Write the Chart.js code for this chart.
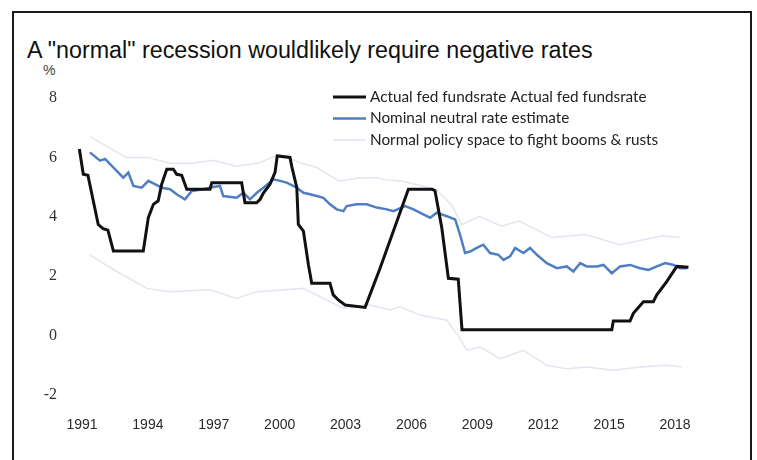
<!DOCTYPE html>
<html>
<head>
<meta charset="utf-8">
<script src="https://cdn.jsdelivr.net/npm/chart.js@4.4.0/dist/chart.umd.min.js"></script>
<style>
  body { margin: 0; background: #fff; }
  #wrap { position: relative; width: 757px; height: 460px; overflow: hidden; background: #fff; }
  #frame { position: absolute; left: 12px; top: 11px; width: 740px; height: 470px;
           border: 2px solid #1a1a1a; box-sizing: border-box; }
  #title { position: absolute; left: 27px; top: 38px; font: 23.3px/24px "Liberation Sans", Arial, sans-serif;
           color: #111; white-space: nowrap; }
  #unit { position: absolute; left: 43px; top: 62px; font: 14px "Liberation Sans", Arial, sans-serif; color: #444; }
  canvas { position: absolute; left: 0; top: 0; }
</style>
</head>
<body>
<div id="wrap">
  <div id="frame"></div>
  <div id="title">A "normal" recession wouldlikely require negative rates</div>
  <div id="unit">%</div>
  <canvas id="chart" width="757" height="460"></canvas>
</div>
<script>
// x values are decimal years
const yearTicks = [1991, 1994, 1997, 2000, 2003, 2006, 2009, 2012, 2015, 2018];
const valueTicks = [-2, 0, 2, 4, 6, 8];

// actual fed funds rate
const fedYears = [1990.88, 1991.06, 1991.27, 1991.74, 1991.96, 1992.18, 1992.43, 1993.79, 1994.02, 1994.25,
  1994.47, 1994.63, 1994.86, 1995.16, 1995.31, 1995.54, 1995.77, 1996.83, 1996.91, 1998.27,
  1998.42, 1998.95, 1999.11, 1999.26, 1999.56, 1999.79, 1999.89, 2000.47, 2000.55, 2000.78,
  2000.85, 2001.08, 2001.31, 2001.46, 2002.29, 2002.44, 2002.67, 2002.98, 2003.89, 2004.57,
  2005.86, 2006.94, 2007.07, 2007.38, 2007.68, 2008.13, 2008.30, 2015.12, 2015.19, 2015.95,
  2016.10, 2016.56, 2017.01, 2017.17, 2017.62, 2018.08, 2018.61];
const fedRates = [6.28, 5.43, 5.40, 3.74, 3.60, 3.55, 2.85, 2.85, 3.97, 4.42,
  4.54, 5.10, 5.60, 5.60, 5.43, 5.40, 4.93, 4.93, 5.15, 5.15,
  4.47, 4.47, 4.59, 4.80, 5.10, 5.50, 6.05, 6.00, 5.70, 4.98,
  3.74, 3.52, 2.38, 1.76, 1.76, 1.37, 1.20, 1.03, 0.95, 2.27,
  4.93, 4.93, 4.88, 3.63, 1.93, 1.90, 0.20, 0.20, 0.49, 0.49,
  0.75, 1.14, 1.14, 1.37, 1.82, 2.33, 2.30];

// nominal neutral rate estimate
const neutralYears = [1991.36, 1991.82, 1992.05, 1992.28, 1992.58, 1992.88, 1993.11, 1993.34, 1993.72, 1994.02,
  1994.32, 1994.63, 1995.01, 1995.31, 1995.69, 1996.00, 1996.52, 1996.98, 1997.28, 1997.43,
  1998.04, 1998.35, 1998.65, 1998.96, 1999.26, 1999.71, 2000.02, 2000.32, 2000.78, 2001.08,
  2001.38, 2001.69, 2001.99, 2002.29, 2002.60, 2002.90, 2003.05, 2003.51, 2003.96, 2004.42,
  2004.88, 2005.18, 2005.71, 2006.09, 2006.54, 2006.85, 2007.15, 2007.61, 2007.99, 2008.21,
  2008.44, 2008.67, 2008.97, 2009.27, 2009.58, 2009.96, 2010.19, 2010.49, 2010.72, 2011.10,
  2011.40, 2011.71, 2012.16, 2012.62, 2013.07, 2013.37, 2013.68, 2013.98, 2014.44, 2014.74,
  2015.12, 2015.50, 2015.95, 2016.41, 2016.79, 2017.17, 2017.55, 2017.93, 2018.23, 2018.54];
const neutralRates = [6.17, 5.89, 5.95, 5.77, 5.55, 5.32, 5.49, 5.04, 4.98, 5.21,
  5.10, 4.98, 4.93, 4.76, 4.59, 4.87, 4.93, 5.00, 5.04, 4.70,
  4.64, 4.81, 4.59, 4.81, 4.98, 5.26, 5.21, 5.15, 4.98, 4.81,
  4.76, 4.70, 4.64, 4.42, 4.25, 4.19, 4.36, 4.42, 4.42, 4.31,
  4.25, 4.19, 4.36, 4.25, 4.08, 3.97, 4.14, 4.02, 3.91, 3.40,
  2.78, 2.83, 2.95, 3.06, 2.78, 2.72, 2.55, 2.67, 2.95, 2.78,
  2.95, 2.72, 2.44, 2.27, 2.33, 2.16, 2.44, 2.33, 2.33, 2.38,
  2.10, 2.33, 2.38, 2.27, 2.21, 2.33, 2.44, 2.38, 2.27, 2.27];

// normal policy space band (upper and lower edge)
const upperYears = [1991.36, 1992.30, 1993.00, 1994.00, 1995.00, 1996.00, 1997.00, 1998.00, 1999.00, 2000.00,
  2001.00, 2001.69, 2002.70, 2003.50, 2004.42, 2004.70, 2005.60, 2007.10, 2007.80, 2008.30,
  2009.10, 2010.10, 2010.90, 2012.40, 2013.90, 2015.50, 2017.40, 2018.20];
const upperRates = [6.70, 6.30, 6.00, 6.00, 5.80, 5.80, 5.90, 5.70, 5.80, 6.10,
  5.80, 5.66, 5.20, 5.30, 5.32, 5.26, 5.20, 4.93, 4.42, 3.74,
  4.02, 3.68, 3.86, 3.30, 3.40, 3.06, 3.36, 3.30];
const lowerYears = [1991.36, 1991.96, 1992.73, 1993.95, 1995.01, 1996.83, 1998.04, 1998.96, 2001.08, 2001.99,
  2002.90, 2004.11, 2005.03, 2005.48, 2006.39, 2007.61, 2008.21, 2008.52, 2009.12, 2010.03,
  2011.10, 2012.16, 2013.07, 2013.98, 2015.19, 2016.41, 2017.63, 2018.31];
const lowerRates = [2.72, 2.44, 2.10, 1.59, 1.48, 1.54, 1.25, 1.48, 1.59, 1.25,
  0.92, 1.03, 0.86, 0.97, 0.69, 0.52, -0.10, -0.50, -0.38, -0.78,
  -0.50, -1.00, -1.12, -1.06, -1.17, -1.06, -1.00, -1.06];

const toPoints = (xs, ys) => xs.map((x, i) => ({ x: x, y: ys[i] }));
const bandColor = "#e2e6ee";

// legend drawn inside the plot, top right
const insideLegend = {
  id: "insideLegend",
  afterDraw(chart) {
    const ctx = chart.ctx;
    ctx.save();
    ctx.font = "15.3px Lato, 'Liberation Sans', sans-serif";
    ctx.textBaseline = "middle";
    let y = 97;
    chart.data.datasets.forEach((ds) => {
      if (!ds.label) return;
      ctx.strokeStyle = ds.borderColor;
      ctx.lineWidth = ds.borderWidth;
      ctx.beginPath();
      ctx.moveTo(333, y);
      ctx.lineTo(366, y);
      ctx.stroke();
      ctx.fillStyle = "#222";
      ctx.fillText(ds.label, 370, y);
      y += 21.5;
    });
    ctx.restore();
  },
};

new Chart(document.getElementById("chart"), {
  type: "line",
  data: {
    datasets: [
      {
        label: "Actual fed fundsrate Actual fed fundsrate",
        data: toPoints(fedYears, fedRates),
        borderColor: "#111",
        borderWidth: 3,
      },
      {
        label: "Nominal neutral rate estimate",
        data: toPoints(neutralYears, neutralRates),
        borderColor: "#4f7fc2",
        borderWidth: 2.5,
      },
      {
        label: "Normal policy space to fight booms & rusts",
        data: toPoints(upperYears, upperRates),
        borderColor: bandColor,
        borderWidth: 1.5,
      },
      {
        label: "",
        data: toPoints(lowerYears, lowerRates),
        borderColor: bandColor,
        borderWidth: 1.5,
      },
    ],
  },
  options: {
    responsive: false,
    animation: false,
    layout: { padding: { left: 20, right: 49, top: 98, bottom: 0 } },
    elements: { point: { radius: 0 }, line: { tension: 0 } },
    plugins: { legend: { display: false }, tooltip: { enabled: false } },
    scales: {
      x: {
        type: "linear",
        min: 1990.5,
        max: 2019.5,
        grid: { display: false },
        border: { display: false },
        afterBuildTicks: (s) => { s.ticks = yearTicks.map((v) => ({ value: v })); },
        afterFit: (s) => { s.height = 65; },
        ticks: {
          padding: 14,
          maxRotation: 0,
          autoSkip: false,
          color: "#2a2a2a",
          font: { family: "'Liberation Sans', Arial, sans-serif", size: 14 },
          callback: (v) => String(v),
        },
      },
      y: {
        min: -2,
        max: 8,
        grid: { display: false },
        border: { display: false },
        afterBuildTicks: (s) => { s.ticks = valueTicks.map((v) => ({ value: v })); },
        afterFit: (s) => { s.width = 51; },
        ticks: {
          padding: 6,
          color: "#333",
          font: { family: "'Liberation Serif', 'Times New Roman', serif", size: 16 },
        },
      },
    },
  },
  plugins: [insideLegend],
});
</script>
</body>
</html>
